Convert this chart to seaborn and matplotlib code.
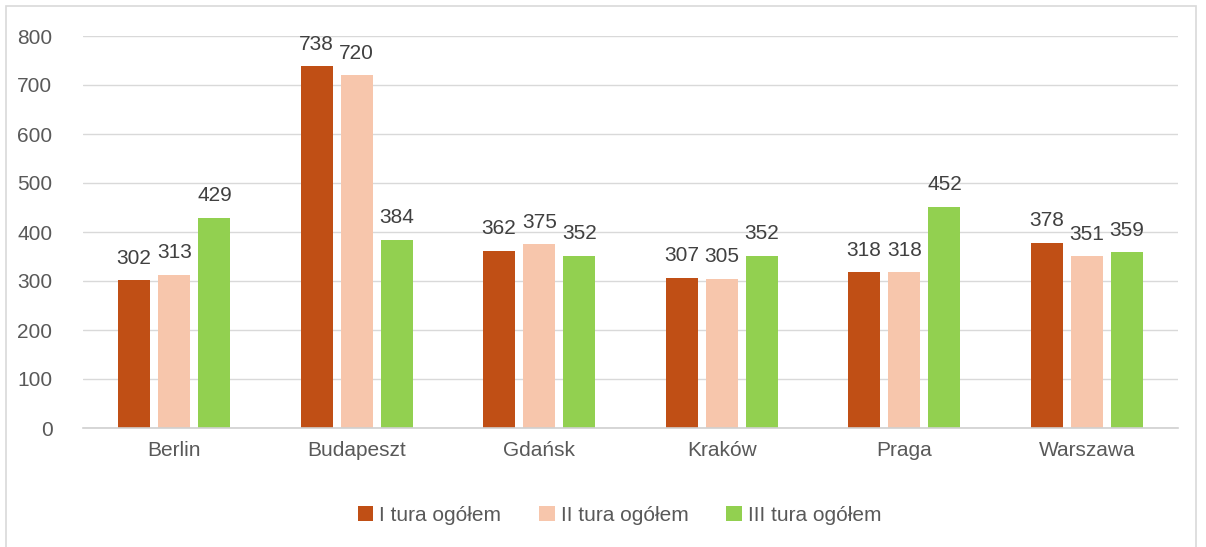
import numpy as np
import pandas as pd
import matplotlib
matplotlib.use("Agg")
import matplotlib.pyplot as plt
import seaborn as sns
from matplotlib.patches import Rectangle

cities = ["Berlin", "Budapeszt", "Gdańsk", "Kraków", "Praga", "Warszawa"]
tura_1 = [302, 738, 362, 307, 318, 378]
tura_2 = [313, 720, 375, 305, 318, 351]
tura_3 = [429, 384, 352, 352, 452, 359]
series = ["I tura ogółem", "II tura ogółem", "III tura ogółem"]
colors = ["#C04F15", "#F7C6AC", "#92D050"]

df = pd.DataFrame({
    "miasto": cities * 3,
    "wartosc": tura_1 + tura_2 + tura_3,
    "seria": [series[0]] * 6 + [series[1]] * 6 + [series[2]] * 6,
})

sns.set_style("white")
plt.rcParams["font.family"] = ["Liberation Sans", "DejaVu Sans"]
txt = "#595959"

fig = plt.figure(figsize=(12.06, 5.47), dpi=100)
ax = fig.add_axes([83 / 1206, 1 - 428 / 547, (1178 - 83) / 1206, (428 - 36) / 547])

sns.barplot(data=df, x="miasto", y="wartosc", hue="seria", palette=colors,
            width=0.66, gap=0.2, saturation=1, linewidth=0, ax=ax, legend=True)

ax.set_ylim(0, 800)
ax.set_xlim(-0.5, 5.5)
ax.set_yticks(range(0, 801, 100))
ax.yaxis.grid(True, color="#D9D9D9", linewidth=1)
ax.set_axisbelow(True)
for s in ["top", "right", "left"]:
    ax.spines[s].set_visible(False)
ax.spines["bottom"].set_color("#D0D0D0")
ax.spines["bottom"].set_linewidth(1.2)
ax.tick_params(axis="both", length=0, labelsize=15, labelcolor=txt)
ax.tick_params(axis="y", pad=22)
ax.tick_params(axis="x", pad=9)
ax.set_xlabel("")
ax.set_ylabel("")

for cont in ax.containers:
    ax.bar_label(cont, padding=9, fontsize=15, color="#404040")

ax.legend(loc="upper center", bbox_to_anchor=(0.49, -0.15), ncol=3, frameon=False,
          fontsize=15, labelcolor=txt, handlelength=0.75, handleheight=0.75,
          handletextpad=0.3, columnspacing=1.8)

fig.patches.append(Rectangle((6 / 1206, -0.01), 1190 / 1206, 1 - 6 / 547 + 0.01,
                             transform=fig.transFigure, fill=False,
                             edgecolor="#D9D9D9", linewidth=1.2))

fig.savefig("out.png", dpi=100)
